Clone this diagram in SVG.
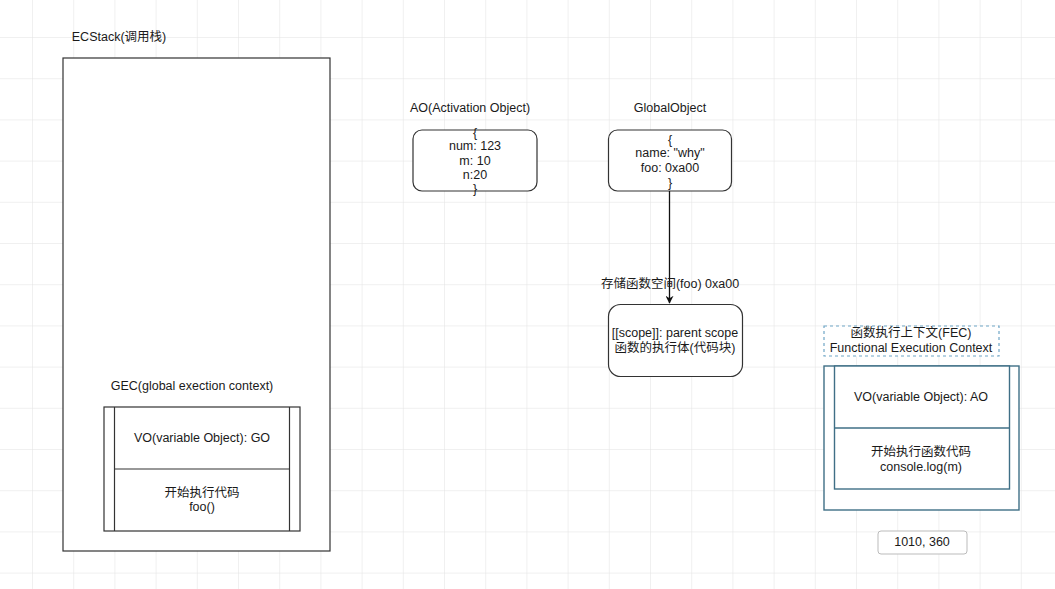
<svg xmlns="http://www.w3.org/2000/svg" width="1055" height="589" viewBox="0 0 1055 589">
<defs>
<pattern id="grid" x="32" y="37" width="41.2" height="41.2" patternUnits="userSpaceOnUse">
<path d="M0 0 H41.2 M0 0 V41.2" fill="none" stroke="#e2e2e2" stroke-width="1"/>
</pattern>
<marker id="arrow" viewBox="0 0 10 10" refX="9" refY="5" markerWidth="8" markerHeight="8" orient="auto" markerUnits="userSpaceOnUse">
<path d="M0 0 L10 5 L0 10 L3 5 Z" fill="#111"/>
</marker>
<style>
text{font-family:"Liberation Sans","Noto Sans CJK SC",sans-serif;font-size:12.5px;fill:#1a1a1a;text-anchor:middle}
.box{fill:#fff;stroke:#333;stroke-width:1.2}
.teal{fill:#fff;stroke:#3f6f86;stroke-width:1.4}
.dash{fill:#fff;stroke:#6fa6c6;stroke-width:1.2;stroke-dasharray:3 3}
</style>
</defs>
<rect width="1055" height="589" fill="#fff"/>
<rect width="1055" height="589" fill="url(#grid)"/>

<g id="ecstack">
<text x="119" y="41">ECStack(调用栈)</text>
<rect class="box" x="63" y="58" width="267" height="493"/>
</g>

<g id="gec">
<text x="192" y="390">GEC(global exection context)</text>
<rect class="box" x="104" y="407" width="196" height="124"/>
<line class="box" x1="114.5" y1="407" x2="114.5" y2="531"/>
<line class="box" x1="289.5" y1="407" x2="289.5" y2="531"/>
<line class="box" x1="114.5" y1="469" x2="289.5" y2="469"/>
<text x="202" y="442">VO(variable Object): GO</text>
<text x="202" y="497">开始执行代码</text>
<text x="202" y="511">foo()</text>
</g>

<g id="ao">
<text x="470" y="112">AO(Activation Object)</text>
<rect class="box" x="413" y="130" width="124" height="61" rx="9"/>
<text x="475" y="137">{</text>
<text x="475" y="150">num: 123</text>
<text x="475" y="165">m: 10</text>
<text x="475" y="179">n:20</text>
<text x="475" y="193">}</text>
</g>

<g id="globalobject">
<text x="670" y="112">GlobalObject</text>
<rect class="box" x="608.5" y="130" width="123" height="61" rx="9"/>
<text x="670" y="144">{</text>
<text x="670" y="157">name: "why"</text>
<text x="670" y="172">foo: 0xa00</text>
<text x="670" y="187">}</text>
</g>

<g id="connectors">
<line x1="669.5" y1="191" x2="669.5" y2="303" stroke="#111" stroke-width="1.3" marker-end="url(#arrow)"/>
<text x="670" y="288">存储函数空间(foo) 0xa00</text>
</g>

<g id="foo-space">
<rect class="box" x="608.5" y="304.5" width="134" height="72" rx="12"/>
<text x="675" y="337">[[scope]]: parent scope</text>
<text x="675" y="352">函数的执行体(代码块)</text>
</g>

<g id="fec-label">
<rect class="dash" x="824" y="326" width="175" height="30"/>
<text x="911" y="337">函数执行上下文(FEC)</text>
<text x="911" y="352">Functional Execution Context</text>
</g>

<g id="fec">
<rect class="teal" x="824" y="366" width="195" height="144"/>
<rect class="teal" x="834.5" y="366" width="175" height="123"/>
<line class="teal" x1="834.5" y1="428" x2="1009.5" y2="428"/>
<text x="921" y="401">VO(variable Object): AO</text>
<text x="921" y="456">开始执行函数代码</text>
<text x="921" y="471">console.log(m)</text>
</g>

<g id="coords">
<rect x="878" y="531" width="89" height="23" rx="3" fill="#fff" stroke="#bbb" stroke-width="1"/>
<text x="922" y="546">1010, 360</text>
</g>
</svg>
